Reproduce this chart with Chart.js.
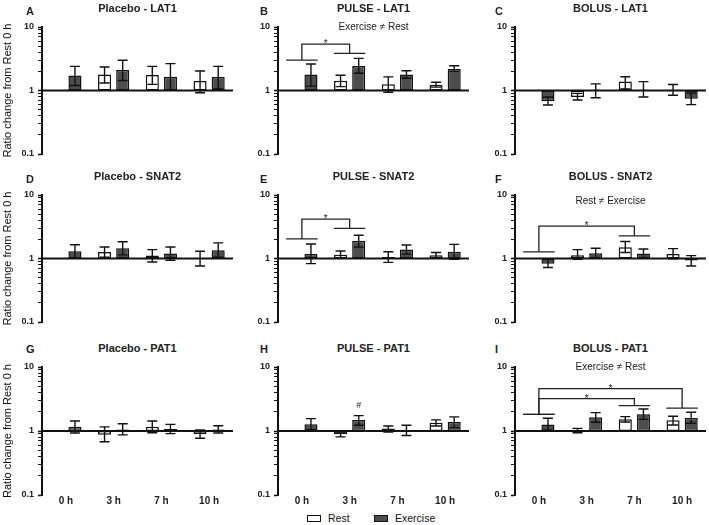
<!DOCTYPE html>
<html>
<head>
<meta charset="utf-8">
<script src="https://cdn.jsdelivr.net/npm/chart.js@4.4.1/dist/chart.umd.min.js"></script>
<style>
  body { margin: 0; width: 709px; height: 525px; background: #fff; position: relative; overflow: hidden;
         font-family: "Liberation Sans", Arial, sans-serif; color: #222; }
  canvas { position: absolute; }
  .lbl { position: absolute; height: 13px; line-height: 13px; font-size: 11px; font-weight: bold; white-space: nowrap; }
  .ttl { text-align: center; }
  .legend { position: absolute; top: 511px; font-size: 10.5px; height: 14px; line-height: 14px; color: #111; }
  .legend span.box { display: inline-block; width: 12px; height: 5px; border: 1.5px solid #111; vertical-align: 0px; margin-right: 7px; }
</style>
</head>
<body>
<div class="legend" style="left:307px"><span class="box" style="background:#fff"></span>Rest</div>
<div class="legend" style="left:374px"><span class="box" style="background:#4d4d4d"></span>Exercise</div>
<script>
const timePoints = ['0 h', '3 h', '7 h', '10 h'];

// each entry: [mean, error low, error high] as ratio change from Rest 0 h
const restA = [null, [1.79, 1.31, 2.35], [1.75, 1.25, 2.4], [1.41, 0.92, 2.03]];
const exA   = [[1.73, 1.2, 2.4], [2.1, 1.44, 3.0], [1.65, 1.02, 2.65], [1.63, 1.06, 2.4]];
const restB = [null, [1.43, 1.15, 1.74], [1.26, 0.94, 1.64], [1.23, 1.13, 1.35]];
const exB   = [[1.78, 1.17, 2.61], [2.43, 1.87, 3.2], [1.78, 1.56, 2.05], [2.21, 2.0, 2.46]];
const restC = [null, [0.79, 0.71, 0.9], [1.38, 1.06, 1.65], [1.03, 0.84, 1.24]];
const exC   = [[0.68, 0.59, 0.79], [0.99, 0.77, 1.27], [1.03, 0.79, 1.38], [0.74, 0.6, 0.91]];
const restD = [null, [1.27, 1.05, 1.52], [1.11, 0.88, 1.38], [0.98, 0.76, 1.3]];
const exD   = [[1.3, 1.02, 1.65], [1.45, 1.14, 1.84], [1.2, 0.94, 1.52], [1.35, 1.05, 1.76]];
const restE = [null, [1.15, 1.01, 1.31], [1.06, 0.87, 1.28], [1.13, 1.01, 1.24]];
const exE   = [[1.18, 0.83, 1.69], [1.9, 1.51, 2.32], [1.38, 1.17, 1.63], [1.28, 0.97, 1.67]];
const restF = [null, [1.13, 0.97, 1.38], [1.51, 1.24, 1.85], [1.18, 0.99, 1.43]];
const exF   = [[0.83, 0.72, 0.97], [1.21, 1.02, 1.45], [1.2, 1.01, 1.41], [0.93, 0.76, 1.11]];
const restG = [null, [0.87, 0.68, 1.16], [1.16, 0.94, 1.43], [0.89, 0.77, 1.04]];
const exG   = [[1.16, 0.93, 1.43], [1.06, 0.87, 1.3], [1.07, 0.91, 1.27], [1.06, 0.93, 1.21]];
const restH = [null, [0.89, 0.81, 0.96], [1.09, 0.96, 1.2], [1.35, 1.2, 1.49]];
const exH   = [[1.27, 1.05, 1.56], [1.49, 1.23, 1.74], [1.02, 0.85, 1.23], [1.38, 1.13, 1.66]];
const restI = [null, [1.05, 0.94, 1.1], [1.52, 1.38, 1.68], [1.47, 1.24, 1.7]];
const exI   = [[1.26, 1.04, 1.58], [1.64, 1.37, 1.94], [1.82, 1.52, 2.21], [1.6, 1.32, 1.96]];

// significance brackets: time point indexes and the ratio levels of the lines
const bracketsB = [{ from: 0, to: 1, yFrom: 3.0, yTo: 3.83, top: 5.36 }];
const bracketsE = [{ from: 0, to: 1, yFrom: 2.04, yTo: 2.98, top: 4.16 }];
const bracketsF = [{ from: 0, to: 2, yFrom: 1.27, yTo: 2.27, top: 3.24 }];
const bracketsI = [{ from: 0, to: 2, yFrom: 1.82, yTo: 2.49, top: 3.21 },
                   { from: 0, to: 3, yFrom: 1.82, yTo: 2.27, top: 4.6 }];

const panels = [
  { letter: 'A', title: 'Placebo - LAT1', rest: restA, ex: exA },
  { letter: 'B', title: 'PULSE - LAT1', rest: restB, ex: exB, brackets: bracketsB, note: 'Exercise \u2260 Rest', noteAt: 10 },
  { letter: 'C', title: 'BOLUS - LAT1', rest: restC, ex: exC },
  { letter: 'D', title: 'Placebo - SNAT2', rest: restD, ex: exD },
  { letter: 'E', title: 'PULSE - SNAT2', rest: restE, ex: exE, brackets: bracketsE },
  { letter: 'F', title: 'BOLUS - SNAT2', rest: restF, ex: exF, brackets: bracketsF, note: 'Rest \u2260 Exercise', noteAt: 8 },
  { letter: 'G', title: 'Placebo - PAT1', rest: restG, ex: exG },
  { letter: 'H', title: 'PULSE - PAT1', rest: restH, ex: exH, hash: { index: 1, at: 2.46 } },
  { letter: 'I', title: 'BOLUS - PAT1', rest: restI, ex: exI, brackets: bracketsI, note: 'Exercise \u2260 Rest', noteAt: 10 }
];

// page layout
const axisX = [42, 278, 515];
const rowTop = [27, 195, 367];
const titleMid = [8.5, 176, 348];
const letterMid = [11.7, 179.5, 349.5];
const letterX = [26, 260, 495];
const plotW = 191, plotH = 127;
const FONT = '"Liberation Sans", Arial, sans-serif';
const logTicks = [0.1, 0.2, 0.3, 0.4, 0.5, 0.6, 0.7, 0.8, 0.9, 1, 2, 3, 4, 5, 6, 7, 8, 9, 10];
const isMajor = v => [0.1, 1, 10].some(t => Math.abs(v - t) < 1e-9);

// error bars, the line at ratio 1, brackets and notes
const extras = {
  id: 'extras',
  afterDatasetsDraw(chart) {
    const { ctx, chartArea, scales: { x, y } } = chart;
    ctx.save();
    ctx.strokeStyle = '#111';
    ctx.lineWidth = 1.4;
    chart.data.datasets.forEach((ds, di) => {
      const meta = chart.getDatasetMeta(di);
      ds.errors.forEach((e, i) => {
        if (!e) return;
        const px = meta.data[i].x;
        const lo = y.getPixelForValue(e[0]), hi = y.getPixelForValue(e[1]);
        ctx.beginPath();
        ctx.moveTo(px, lo); ctx.lineTo(px, hi);
        ctx.moveTo(px - 5, lo); ctx.lineTo(px + 5, lo);
        ctx.moveTo(px - 5, hi); ctx.lineTo(px + 5, hi);
        ctx.stroke();
      });
    });
    const y1 = y.getPixelForValue(1);
    ctx.lineWidth = 2;
    ctx.beginPath();
    ctx.moveTo(chartArea.left, y1); ctx.lineTo(chartArea.right, y1);
    ctx.stroke();

    const p = chart.options.plugins.extras;
    const step = x.getPixelForValue(1) - x.getPixelForValue(0);
    ctx.strokeStyle = '#222';
    ctx.fillStyle = '#222';
    ctx.lineWidth = 1.3;
    (p.brackets || []).forEach(b => {
      const xa = x.getPixelForValue(b.from), xb = x.getPixelForValue(b.to);
      const ya = y.getPixelForValue(b.yFrom), yb = y.getPixelForValue(b.yTo), yt = y.getPixelForValue(b.top);
      const hw = step * 0.33;
      ctx.beginPath();
      ctx.moveTo(xa - hw, ya); ctx.lineTo(xa + hw, ya);
      ctx.moveTo(xb - hw, yb); ctx.lineTo(xb + hw, yb);
      ctx.moveTo(xa, ya); ctx.lineTo(xa, yt); ctx.lineTo(xb, yt); ctx.lineTo(xb, yb);
      ctx.stroke();
      ctx.font = '10px ' + FONT;
      ctx.textAlign = 'center';
      ctx.textBaseline = 'alphabetic';
      ctx.fillText('*', (xa + xb) / 2, yt + 3);
    });
    if (p.note) {
      ctx.font = '10px ' + FONT;
      ctx.textAlign = 'center';
      ctx.textBaseline = 'middle';
      ctx.fillText(p.note, (chartArea.left + chartArea.right) / 2, y.getPixelForValue(p.noteAt));
    }
    if (p.hash) {
      const bar = chart.getDatasetMeta(1).data[p.hash.index];
      ctx.font = '9px ' + FONT;
      ctx.textAlign = 'center';
      ctx.textBaseline = 'middle';
      ctx.fillText('#', bar.x, y.getPixelForValue(p.hash.at));
    }
    ctx.restore();
  }
};

function addLabel(text, left, mid, width, cls) {
  const d = document.createElement('div');
  d.className = 'lbl ' + (cls || '');
  d.textContent = text;
  d.style.left = left + 'px';
  d.style.top = (mid - 6.5) + 'px';
  if (width) d.style.width = width + 'px';
  document.body.appendChild(d);
}

function seriesData(rows) {
  return rows.map(v => v ? [1, v[0]] : null);
}
function seriesErrors(rows) {
  return rows.map(v => v ? [v[1], v[2]] : null);
}

panels.forEach((p, k) => {
  const row = Math.floor(k / 3), col = k % 3;
  const bottom = row === 2;
  const yW = col === 0 ? 42 : 30;
  const padTop = 10, padRight = 3, padBottom = bottom ? 2 : 10;
  const canvas = document.createElement('canvas');
  canvas.width = yW + plotW + padRight;
  canvas.height = padTop + plotH + (bottom ? 13 : 0) + padBottom;
  canvas.style.left = (axisX[col] - yW) + 'px';
  canvas.style.top = (rowTop[row] - padTop) + 'px';
  document.body.appendChild(canvas);

  addLabel(p.letter, letterX[col], letterMid[row]);
  addLabel(p.title, axisX[col], titleMid[row], plotW, 'ttl');

  new Chart(canvas, {
    type: 'bar',
    data: {
      labels: timePoints,
      datasets: [
        { label: 'Rest', data: seriesData(p.rest), errors: seriesErrors(p.rest),
          backgroundColor: '#fff', borderColor: '#111', borderWidth: 1.5, borderSkipped: false,
          categoryPercentage: 0.76, barPercentage: 0.72 },
        { label: 'Exercise', data: seriesData(p.ex), errors: seriesErrors(p.ex),
          backgroundColor: '#4d4d4d', borderColor: '#111', borderWidth: 1.5, borderSkipped: false,
          categoryPercentage: 0.76, barPercentage: 0.72 }
      ]
    },
    options: {
      responsive: false,
      animation: false,
      layout: { padding: { top: padTop, right: padRight, bottom: padBottom, left: 0 } },
      plugins: {
        legend: { display: false },
        tooltip: { enabled: false },
        extras: { brackets: p.brackets, note: p.note, noteAt: p.noteAt, hash: p.hash }
      },
      scales: {
        x: {
          display: bottom,
          grid: { display: false, drawTicks: false },
          border: { display: false },
          ticks: { padding: 0, color: '#222', font: { size: 10, weight: 'bold', family: FONT } }
        },
        y: {
          type: 'logarithmic',
          min: 0.1,
          max: 10,
          afterBuildTicks: scale => { scale.ticks = logTicks.map(v => ({ value: v, major: isMajor(v) })); },
          afterFit: scale => { scale.width = yW; },
          border: { display: true, color: '#111', width: 2 },
          grid: { drawOnChartArea: false, drawTicks: true, tickLength: 4, tickColor: '#111',
                  tickWidth: c => isMajor(c.tick.value) ? 1.6 : 1 },
          ticks: {
            autoSkip: false,
            padding: 4,
            color: '#222',
            font: { size: 9, weight: 'bold', family: FONT },
            callback: v => isMajor(v) ? String(v) : ''
          },
          title: {
            display: col === 0,
            text: 'Ratio change from Rest 0 h',
            color: '#111',
            font: { size: 11, family: FONT },
            padding: { top: 1, bottom: 0 }
          }
        }
      }
    },
    plugins: [extras]
  });
});
</script>
</body>
</html>
